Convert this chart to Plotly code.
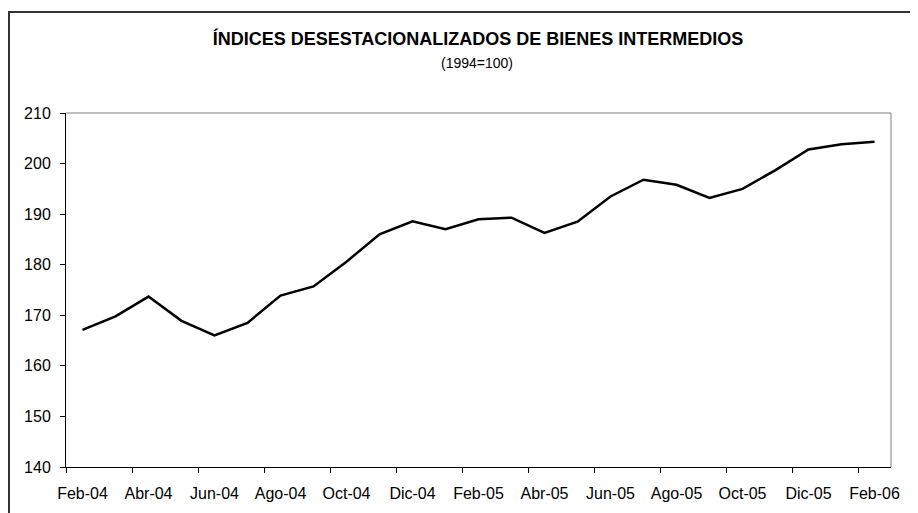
import plotly.graph_objects as go

# --------------------------------------------------
# Data
# --------------------------------------------------

meses = [
    "Feb-04", "Mar-04", "Abr-04", "May-04", "Jun-04", "Jul-04", "Ago-04",
    "Sep-04", "Oct-04", "Nov-04", "Dic-04", "Ene-05", "Feb-05", "Mar-05",
    "Abr-05", "May-05", "Jun-05", "Jul-05", "Ago-05", "Sep-05", "Oct-05",
    "Nov-05", "Dic-05", "Ene-06", "Feb-06",
]

indice = [
    167.1, 169.8, 173.7, 168.9, 166.0, 168.5, 173.9,
    175.7, 180.6, 186.0, 188.6, 187.0, 189.0, 189.3,
    186.3, 188.5, 193.5, 196.8, 195.8, 193.2, 195.0,
    198.7, 202.8, 203.8, 204.3,
]

y_ticks = [140, 150, 160, 170, 180, 190, 200, 210]

titulo = "ÍNDICES DESESTACIONALIZADOS DE BIENES INTERMEDIOS"
subtitulo = "(1994=100)"

# --------------------------------------------------
# Figure
# --------------------------------------------------

FONT = "Liberation Sans, Arial, sans-serif"

# the page body adds an 8px offset, so the figure is laid out in
# page pixels minus 8
OFF = 8
W, H = 918 - OFF, 513 - OFF
L, R, T, B = 66 - OFF, 891 - OFF, 113 - OFF, 467 - OFF
PW, PH = R - L, B - T

idx = list(range(len(meses)))

fig = go.Figure()

fig.add_trace(
    go.Scatter(
        x=idx,
        y=indice,
        mode="lines",
        line=dict(color="black", width=2.5),
        hoverinfo="skip",
        showlegend=False,
    )
)

fig.update_layout(
    width=W,
    height=H,
    margin=dict(l=L, r=W - R, t=T, b=H - B, pad=0),
    paper_bgcolor="white",
    plot_bgcolor="white",
    font=dict(family=FONT, size=16, color="black"),
    title=dict(
        text="<b>" + titulo + "</b>",
        x=(478 - OFF) / W,
        xanchor="center",
        y=1 - (39 - OFF) / H,
        yanchor="middle",
        font=dict(family=FONT, size=18, color="black"),
    ),
    annotations=[
        dict(
            text=subtitulo,
            xref="paper",
            yref="paper",
            x=(477 - 66) / 825,
            y=(467 - 63) / 354,
            xanchor="center",
            yanchor="middle",
            showarrow=False,
            font=dict(family=FONT, size=14, color="black"),
        )
    ],
    shapes=[
        # outer chart frame
        dict(
            type="rect",
            xref="paper",
            yref="paper",
            x0=(9 - 66) / PW,
            x1=(930 - 66) / PW,
            y0=(467 - 530) / PH,
            y1=(467 - 12) / PH,
            line=dict(color="#333333", width=2),
            layer="below",
        ),
        # plot area top and right edges (grey)
        dict(
            type="line", xref="paper", yref="paper",
            x0=0, x1=1, y0=1, y1=1,
            line=dict(color="#808080", width=1),
        ),
        dict(
            type="line", xref="paper", yref="paper",
            x0=1, x1=1, y0=0, y1=1,
            line=dict(color="#808080", width=1),
        ),
    ],
)

fig.update_xaxes(
    range=[-0.5, len(meses) - 0.5],
    tickmode="array",
    tickvals=idx[::2],
    ticktext=meses[::2],
    ticks="",
    ticklabelstandoff=12,
    showgrid=False,
    zeroline=False,
    showline=True,
    linecolor="black",
    linewidth=1,
    minor=dict(
        tickmode="linear",
        tick0=-0.5,
        dtick=2,
        ticks="outside",
        ticklen=5,
        tickcolor="black",
        tickwidth=1,
        showgrid=False,
    ),
)

fig.update_yaxes(
    range=[140, 210],
    tickmode="array",
    tickvals=y_ticks,
    ticks="outside",
    ticklen=5,
    tickcolor="black",
    ticklabelstandoff=6,
    showgrid=False,
    zeroline=False,
    showline=True,
    linecolor="black",
    linewidth=1,
)

fig.write_html("out.html")
